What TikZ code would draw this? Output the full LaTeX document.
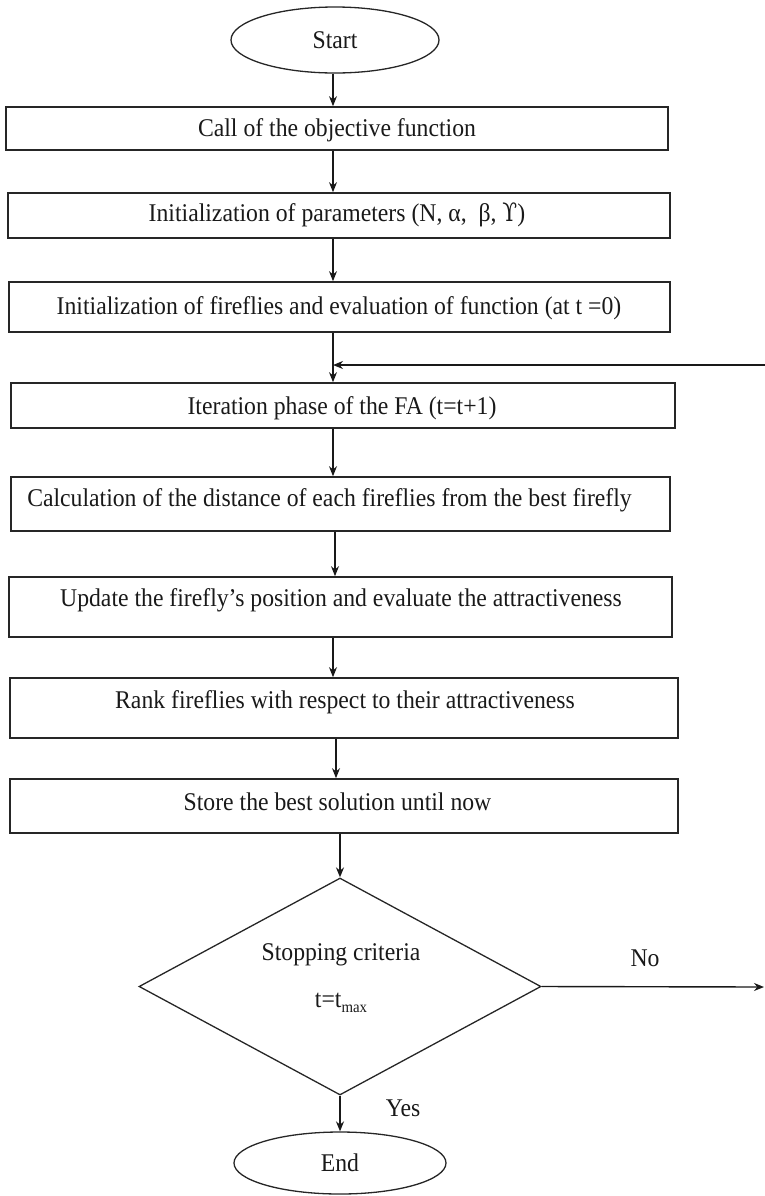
\documentclass[tikz,border=0pt]{standalone}
\usepackage{fontspec}
\setmainfont{Liberation Serif}[FakeStretch=0.93]
\newfontfamily\upsfont{DejaVu Serif}[FakeStretch=0.85]
\usetikzlibrary{shapes.geometric,arrows.meta}
\begin{document}
\begin{tikzpicture}[x=1bp,y=-1bp,
  line/.style={draw=black!85, line width=1.7bp},
  thin line/.style={draw=black!85, line width=1.3bp},
  arr/.style={draw=black!90, line width=1.4bp, -{Stealth[length=10bp,width=8bp]}},
  box/.style={line, rectangle, inner sep=0pt},
  term/.style={thin line, ellipse, inner sep=0pt, txt},
  dec/.style={thin line, diamond, inner sep=0pt},
  txt/.style={font=\fontsize{25.5bp}{30bp}\selectfont, inner sep=0pt, text=black!90}
]
\useasboundingbox (0,0) rectangle (765,1196);

% terminals
\node[term, minimum width=208bp, minimum height=66bp] (start) at (335,40) {Start};
\node[term, minimum width=212bp, minimum height=62bp] (end) at (340,1163) {End};

% boxes
\node[box, minimum width=662bp, minimum height=43bp] (b1) at (337,128.5) {};
\node[txt] (t1) at (337,130) {Call of the objective function};

\node[box, minimum width=662bp, minimum height=45bp] (b2) at (339,215.5) {};
\node[txt] (t2) at (337,215) {Initialization of parameters (N, α,\ \ β, {\upsfont ϒ})};

\node[box, minimum width=661bp, minimum height=50bp] (b3) at (339.5,307) {};
\node[txt] (t3) at (339,308) {Initialization of fireflies and evaluation of function (at t =0)};

\node[box, minimum width=664bp, minimum height=45bp] (b4) at (343,405.5) {};
\node[txt] (t4) at (342,408) {Iteration phase of the FA (t=t+1)};

\node[box, minimum width=659bp, minimum height=54bp] (b5) at (340.5,504) {};
\node[txt] (t5) at (329.5,500) {Calculation of the distance of each fireflies from the best firefly};

\node[box, minimum width=663bp, minimum height=60bp] (b6) at (340.5,607) {};
\node[txt] (t6) at (341,600) {Update the firefly’s position and evaluate the attractiveness};

\node[box, minimum width=668bp, minimum height=60bp] (b7) at (344,708) {};
\node[txt] (t7) at (345,702) {Rank fireflies with respect to their attractiveness};

\node[box, minimum width=668bp, minimum height=54bp] (b8) at (344,806) {};
\node[txt] (t8) at (337.5,802) {Store the best solution until now};

% decision
\node[dec, minimum width=402bp, minimum height=217bp] (dec) at (340,986.5) {};
\node[txt] (d1) at (341,955) {Stopping criteria};
\node[txt] (d2) at (341,1003) {t=t\raisebox{-0.4ex}{\fontsize{16}{16}\selectfont max}};

\node[txt] (nolab) at (645,958) {No};
\node[txt] (yeslab) at (403,1108) {Yes};

% column coordinates
\coordinate (c1) at (333,0);
\coordinate (c2) at (335,0);
\coordinate (c3) at (336,0);
\coordinate (fb) at (766,365);
\coordinate (fbc) at (766,372);
\coordinate (noend) at (764,987);

% connectors
\draw[arr] (start.south -| c1) -- (b1.north -| c1);
\draw[arr] (b1.south -| c1) -- (b2.north -| c1);
\draw[arr] (b2.south -| c1) -- (b3.north -| c1);
\draw[arr] (b3.south -| c1) -- (b4.north -| c1);
\draw[arr] (b4.south -| c1) -- (b5.north -| c1);
\draw[arr] (b5.south -| c2) -- (b6.north -| c2);
\draw[arr] (b6.south -| c1) -- (b7.north -| c1);
\draw[arr] (b7.south -| c3) -- (b8.north -| c3);
\draw[arr] (b8.south -| dec.north) -- (dec.north);
\draw[arr] (dec.south) -- (end.north);
\draw[arr] (dec.east) -- (noend);
\draw[arr] (fbc) |- (fb -| c1);
\end{tikzpicture}
\end{document}
